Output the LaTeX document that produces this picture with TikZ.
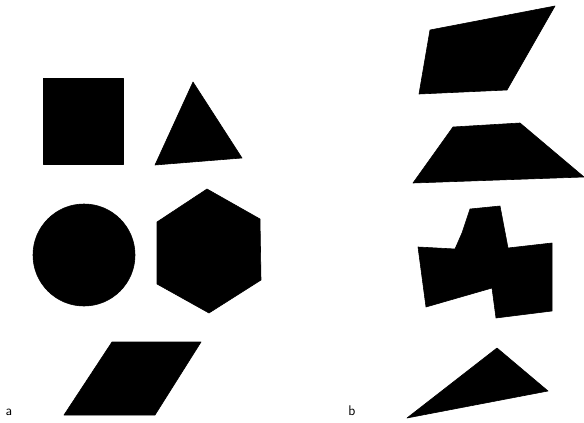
\documentclass[tikz,border=0pt]{standalone}
\usepackage{tikz}
\usetikzlibrary{positioning}

\tikzset{
  blob/.style={fill=black, draw=black, line width=0.6pt, line join=round},
  tag/.style={font=\sffamily\fontsize{14}{14}\selectfont, inner sep=0pt}
}

\begin{document}
\begin{tikzpicture}[x=1pt, y=-1pt]
  \useasboundingbox (0,0) rectangle (584,423);
  % panel a
  \fill[blob] (43,78) rectangle (123,164);
  \fill[blob] (193,82) -- (242,158) -- (155,165) -- cycle;
  \fill[blob] (84,255) circle (51);
  \fill[blob] (207,189) -- (260,219) -- (261,280) -- (209,313)
    -- (157,284) -- (157,222) -- cycle;
  \fill[blob] (112,342) -- (201,342) -- (155,415) -- (64,415) -- cycle;
  \node[tag] (la) at (9,412) {a};
  % panel b
  \fill[blob] (430,30) -- (555,6) -- (507,90) -- (419,94) -- cycle;
  \fill[blob] (453,127) -- (520,123) -- (584,177) -- (413,183) -- cycle;
  \fill[blob] (470,209) -- (500,206) -- (508,248) -- (552,243)
    -- (552,311) -- (496,318) -- (492,288) -- (426,307) -- (418,247)
    -- (455,249) -- (462,233) -- cycle;
  \fill[blob] (497,348) -- (548,391) -- (407,418) -- cycle;
  \node[tag] (lb) at (352,411) {b};
\end{tikzpicture}
\end{document}
